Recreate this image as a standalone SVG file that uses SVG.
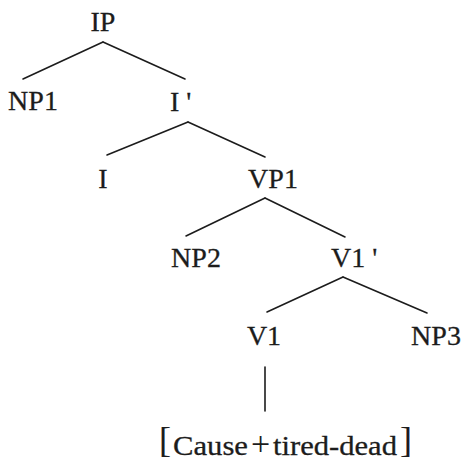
<svg xmlns="http://www.w3.org/2000/svg" width="464" height="461" viewBox="0 0 464 461">
<style>
.lbl{font-family:"Liberation Serif","Times New Roman",serif;font-size:28px;fill:#1c1c1c;stroke:#1c1c1c;stroke-width:0.3}
.mid{text-anchor:middle}
.edge{stroke:#1c1c1c;stroke-width:1.6;fill:none;stroke-linecap:round}
.br{font-size:36px;stroke-width:0.1}
</style>
<rect width="464" height="461" fill="#ffffff"/>
<g id="connectors">
<line class="edge" x1="103" y1="42" x2="23" y2="79"/>
<line class="edge" x1="103" y1="42" x2="185" y2="79"/>
<line class="edge" x1="188" y1="122" x2="107" y2="155"/>
<line class="edge" x1="188" y1="122" x2="265" y2="157"/>
<line class="edge" x1="265" y1="198" x2="186" y2="236"/>
<line class="edge" x1="265" y1="198" x2="345" y2="237"/>
<line class="edge" x1="343" y1="277" x2="267" y2="312"/>
<line class="edge" x1="343" y1="277" x2="427" y2="313"/>
<line class="edge" x1="265" y1="367" x2="265" y2="411"/>
</g>
<g id="node-IP"><text class="lbl mid" x="103" y="31">IP</text></g>
<g id="node-NP1"><text class="lbl mid" x="33" y="110">NP1</text></g>
<g id="node-Ibar"><text class="lbl" x="170" y="111">I '</text></g>
<g id="node-I"><text class="lbl mid" x="103" y="188">I</text></g>
<g id="node-VP1"><text class="lbl mid" x="273" y="188">VP1</text></g>
<g id="node-NP2"><text class="lbl mid" x="196" y="267">NP2</text></g>
<g id="node-V1bar"><text class="lbl" x="331" y="267">V1 '</text></g>
<g id="node-V1"><text class="lbl mid" x="264" y="345">V1</text></g>
<g id="node-NP3"><text class="lbl mid" x="436" y="345">NP3</text></g>
<g id="node-leaf"><text class="lbl" x="160" y="455" font-size="30"><tspan class="br" x="159" y="452">[</tspan><tspan x="173" y="455" textLength="75" lengthAdjust="spacingAndGlyphs">Cause</tspan><tspan x="251" font-size="34" stroke-width="0">+</tspan><tspan x="273" textLength="124" lengthAdjust="spacingAndGlyphs">tired-dead</tspan><tspan class="br" x="400" y="452">]</tspan></text></g>
</svg>
